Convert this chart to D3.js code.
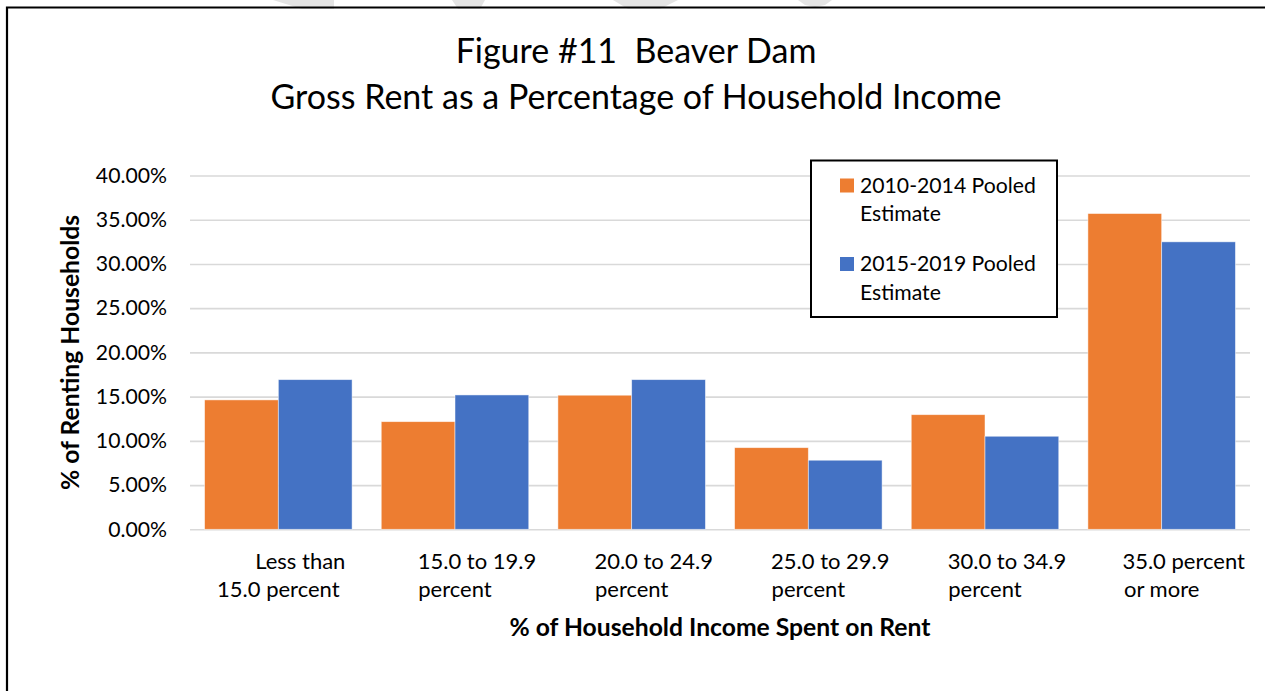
<!DOCTYPE html>
<html>
<head>
<meta charset="utf-8">
<script src="https://cdn.jsdelivr.net/npm/d3@7"></script>
<style>
  body { margin: 0; background: #fff; }
  svg { display: block; font-family: Lato, sans-serif; }
  svg text { white-space: pre; }
</style>
</head>
<body>
<div id="chart"></div>
<script>
// data
const categories = ["Less than 15.0 percent", "15.0 to 19.9 percent", "20.0 to 24.9 percent",
                    "25.0 to 29.9 percent", "30.0 to 34.9 percent", "35.0 percent or more"];
const tickLines = [["Less than", "15.0 percent"], ["15.0 to 19.9", "percent"], ["20.0 to 24.9", "percent"],
                   ["25.0 to 29.9", "percent"], ["30.0 to 34.9", "percent"], ["35.0 percent", "or more"]];
const seriesNames = ["2010-2014 Pooled Estimate", "2015-2019 Pooled Estimate"];
const legendLines = [["2010-2014 Pooled", "Estimate"], ["2015-2019 Pooled", "Estimate"]];
const pooled2010 = [14.63, 12.17, 15.16, 9.23, 12.96, 35.70];
const pooled2015 = [16.92, 15.19, 16.92, 7.81, 10.52, 32.50];
const yTicks = [0, 5, 10, 15, 20, 25, 30, 35, 40];
const titleLines = ["Figure #11  Beaver Dam", "Gross Rent as a Percentage of Household Income"];
const xTitle = "% of Household Income Spent on Rent";
const yTitle = "% of Renting Households";

const colors = ["#ED7D31", "#4472C4"];
const width = 1265, height = 691;
const plot = { left: 190, right: 1250, top: 175.5, bottom: 529.3 };

const svg = d3.select("#chart").append("svg")
    .attr("width", width)
    .attr("height", height);

// faint watermark remains at the top edge
const marks = [
  [[273,0],[334,0],[334,9],[302,9]],
  [[452,0],[485,0],[480,9],[458,9]],
  [[613,0],[678,0],[660,9],[628,9]],
  [[798,0],[832,0],[825,5],[815,7],[805,5]]
];
svg.append("g").selectAll("path")
  .data(marks)
  .join("path")
    .attr("d", d => "M" + d.join("L") + "Z")
    .attr("fill", "#e4e4e4");

// outer frame
svg.append("path")
    .attr("d", `M7,${height + 5}V7.5H${width + 5}`)
    .attr("fill", "none")
    .attr("stroke", "#000")
    .attr("stroke-width", 2.2);

const data = categories.map((c, i) => ({ cat: c, vals: [pooled2010[i], pooled2015[i]] }));

const x = d3.scaleBand()
    .domain(categories)
    .range([plot.left, plot.right])
    .paddingInner(0.165)
    .paddingOuter(0.0825);

const xs = d3.scaleBand()
    .domain(seriesNames)
    .range([0, x.bandwidth()]);

const y = d3.scaleLinear()
    .domain([0, 40])
    .range([plot.bottom, plot.top]);

// gridlines + y tick labels
svg.append("g")
    .attr("transform", `translate(${plot.left},0)`)
    .call(d3.axisLeft(y)
      .tickValues(yTicks)
      .tickFormat(d => d.toFixed(2) + "%")
      .tickSize(-(plot.right - plot.left))
      .tickPadding(23))
    .call(g => g.select(".domain").remove())
    .call(g => g.selectAll("line").attr("stroke", "#d9d9d9").attr("stroke-width", 1.6))
    .call(g => g.selectAll("text")
      .attr("fill", "#000")
      .attr("font-size", 21.2)
      .attr("font-family", "Lato, sans-serif"));

// bars
svg.append("g").selectAll("g")
  .data(data)
  .join("g")
    .attr("transform", d => `translate(${x(d.cat)},0)`)
  .selectAll("rect")
  .data(d => d.vals.map((v, j) => ({ s: seriesNames[j], v, j })))
  .join("rect")
    .attr("x", d => xs(d.s))
    .attr("y", d => y(d.v))
    .attr("width", xs.bandwidth())
    .attr("height", d => y(0) - y(d.v))
    .attr("fill", d => colors[d.j])
    .attr("stroke", "#fff")
    .attr("stroke-opacity", 0.6)
    .attr("stroke-width", 0.8);

// category labels (two lines each)
const xl = svg.append("g")
    .attr("font-size", 22)
    .attr("text-anchor", "middle")
  .selectAll("text")
  .data(categories)
  .join("text");
xl.append("tspan")
    .attr("x", d => x(d) + x.bandwidth() / 2 + 22)
    .attr("y", 569)
    .text((d, i) => tickLines[i][0]);
xl.append("tspan")
    .attr("x", d => x(d) + x.bandwidth() / 2)
    .attr("y", 597)
    .text((d, i) => tickLines[i][1]);

// axis titles
svg.append("text")
    .attr("x", (plot.left + plot.right) / 2)
    .attr("y", 636)
    .attr("text-anchor", "middle")
    .attr("font-size", 24.7)
    .attr("font-weight", "bold")
    .text(xTitle);

svg.append("text")
    .attr("transform", `translate(79,${(plot.top + plot.bottom) / 2}) rotate(-90)`)
    .attr("text-anchor", "middle")
    .attr("font-size", 24.7)
    .attr("font-weight", "bold")
    .text(yTitle);

// chart title
svg.append("g")
    .attr("text-anchor", "middle")
    .attr("font-size", 34)
  .selectAll("text")
  .data(titleLines)
  .join("text")
    .attr("x", 636)
    .attr("y", (d, i) => 63 + i * 45.5)
    .text(d => d);

// legend
const lg = svg.append("g");
lg.append("rect")
    .attr("x", 811).attr("y", 160.5)
    .attr("width", 246).attr("height", 156.5)
    .attr("fill", "#fff")
    .attr("stroke", "#000")
    .attr("stroke-width", 2);
const li = lg.selectAll("g.item")
  .data(seriesNames)
  .join("g")
    .attr("class", "item")
    .attr("transform", (d, i) => `translate(840,${178.5 + i * 78.5})`);
li.append("rect")
    .attr("width", 14).attr("height", 14)
    .attr("fill", (d, i) => colors[i]);
li.append("text")
    .attr("font-size", 21.2)
  .selectAll("tspan")
  .data((d, i) => legendLines[i])
  .join("tspan")
    .attr("x", 20)
    .attr("y", (d, k) => 14 + k * 28.5)
    .text(d => d);
</script>
</body>
</html>
